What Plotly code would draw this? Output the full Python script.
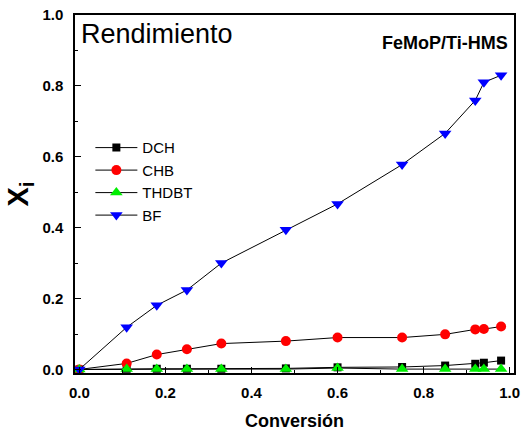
import plotly.graph_objects as go

conversion = [0.0, 0.11, 0.18, 0.25, 0.33, 0.48, 0.60, 0.75, 0.85, 0.92, 0.94, 0.98]
dch = [0.0, 0.002, 0.002, 0.002, 0.002, 0.003, 0.006, 0.007, 0.011, 0.016, 0.019, 0.025]
chb = [0.0, 0.017, 0.042, 0.057, 0.073, 0.080, 0.090, 0.090, 0.099, 0.113, 0.114, 0.121]
thdbt = [0.0, 0.001, 0.001, 0.001, 0.001, 0.001, 0.004, 0.001, 0.001, 0.001, 0.001, 0.001]
bf = [0.0, 0.119, 0.181, 0.224, 0.300, 0.394, 0.467, 0.578, 0.666, 0.759, 0.810, 0.830]

tick_vals = [0.0, 0.2, 0.4, 0.6, 0.8, 1.0]
tick_text = ["0.0", "0.2", "0.4", "0.6", "0.8", "1.0"]

FONT = "Arial, Liberation Sans, sans-serif"

series = [
    ("DCH", dch, "square", "black", 8),
    ("CHB", chb, "circle", "red", 10),
    ("THDBT", thdbt, "triangle-up", "#00ee00", 11),
    ("BF", bf, "triangle-down", "blue", 11),
]

fig = go.Figure()
for name, ys, sym, col, sz in series:
    fig.add_trace(go.Scatter(
        x=conversion, y=ys, name=name, mode="lines+markers",
        line=dict(color="black", width=1),
        marker=dict(symbol=sym, color=col, size=sz, line=dict(width=0)),
    ))

bold_text = ["<b>" + t + "</b>" for t in tick_text]

axis_common = dict(
    showgrid=False, zeroline=False, showline=True, linecolor="black", linewidth=1.5,
    mirror=True, ticks="inside", ticklen=6, tickwidth=1, tickcolor="black",
    tickvals=tick_vals, ticktext=bold_text, automargin=False,
    tickfont=dict(family=FONT, size=15, color="black"),
    minor=dict(ticks="inside", ticklen=3, tickcolor="black", dtick=0.1),
)

fig.update_xaxes(range=[-0.01, 1.01], ticklabelstandoff=5,
                 title=dict(text="<b>Conversión</b>", font=dict(family=FONT, size=18, color="black"), standoff=15),
                 **axis_common)
fig.update_yaxes(range=[-0.01, 1.0], ticklabelstandoff=7,
                 title=dict(text="<b>X<sub>i</sub></b>", font=dict(family=FONT, size=29, color="black"), standoff=5),
                 **axis_common)

fig.update_layout(
    width=527, height=434,
    margin=dict(l=75, r=13, t=15, b=61),
    plot_bgcolor="white", paper_bgcolor="white",
    font=dict(family=FONT, color="black"),
    showlegend=True,
    legend=dict(x=0.035, y=0.675, xanchor="left", yanchor="top", bgcolor="rgba(0,0,0,0)",
                font=dict(family=FONT, size=15, color="black"), tracegroupgap=0, itemwidth=42),
    annotations=[
        dict(text="Rendimiento", x=0.008, y=0.995, xref="paper", yref="paper",
             xanchor="left", yanchor="top", showarrow=False,
             font=dict(family=FONT, size=27, color="black")),
        dict(text="<b>FeMoP/Ti-HMS</b>", x=0.99, y=0.955, xref="paper", yref="paper",
             xanchor="right", yanchor="top", showarrow=False,
             font=dict(family=FONT, size=18, color="black")),
    ],
)

fig.write_html("out.html")
